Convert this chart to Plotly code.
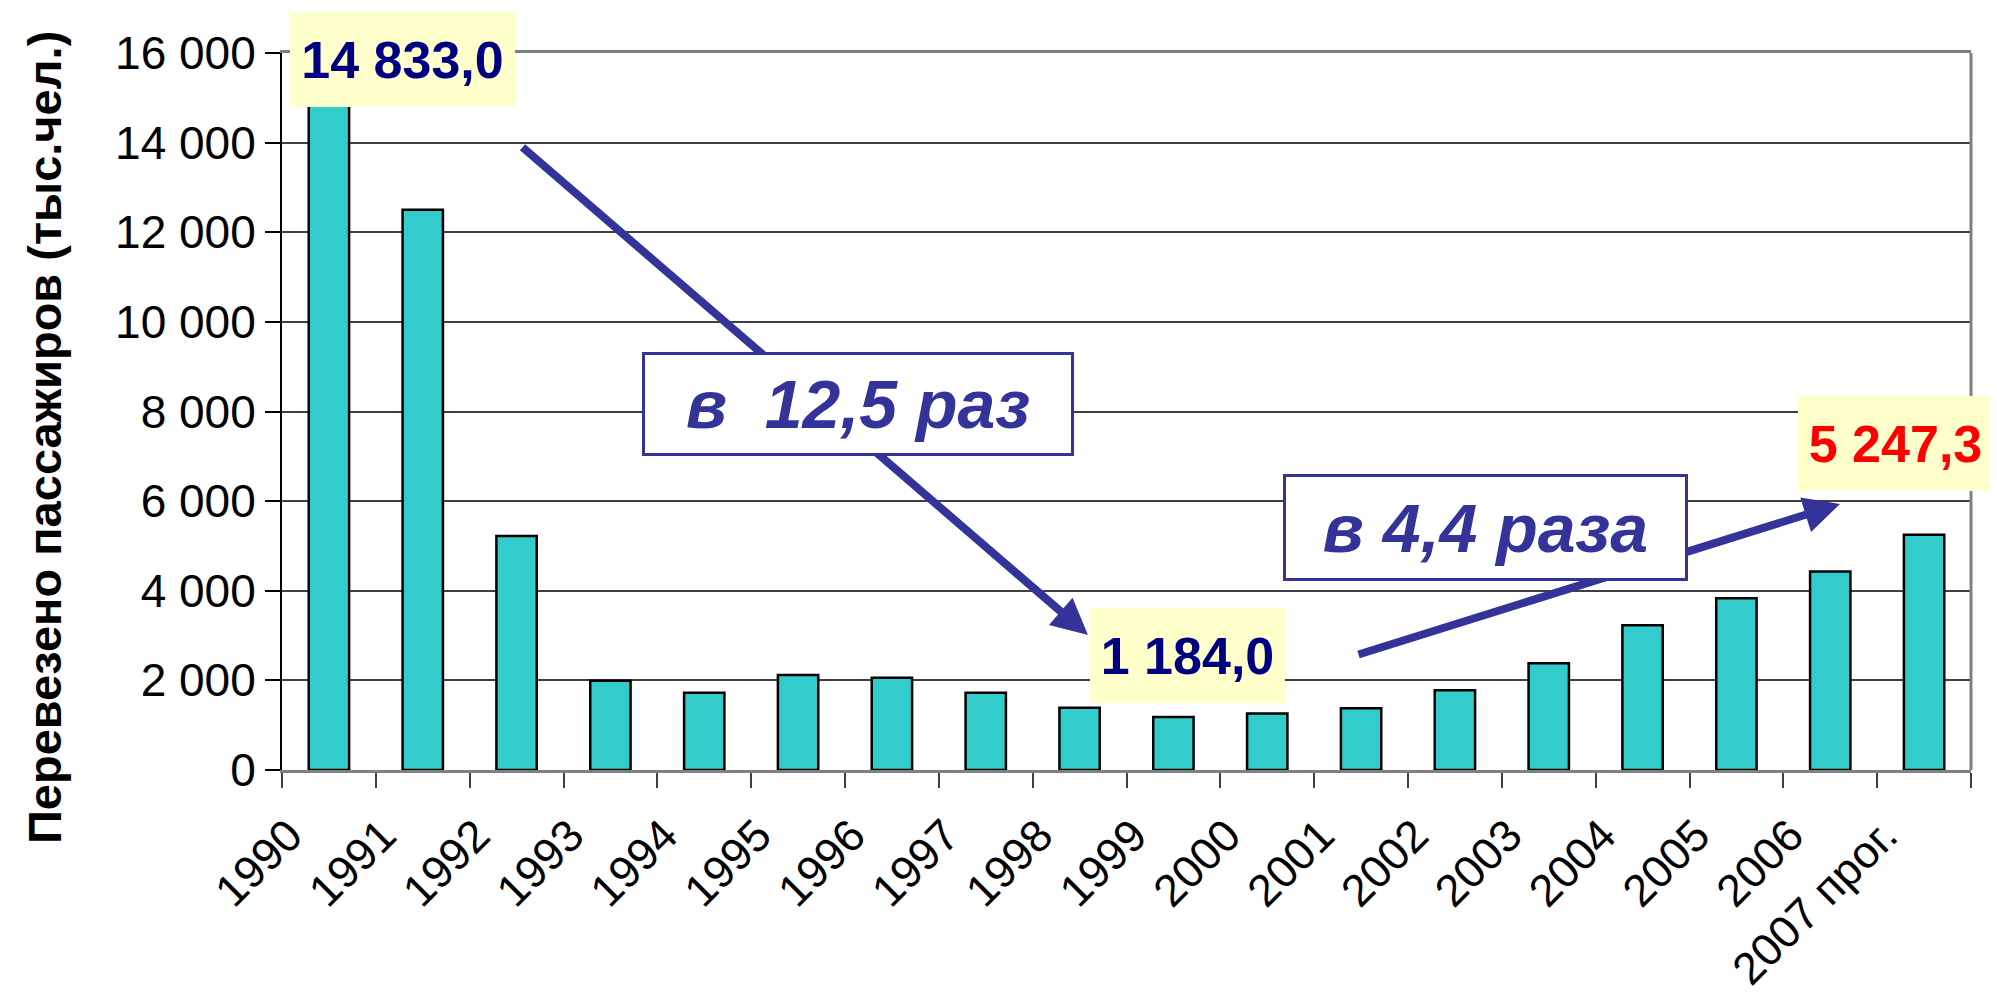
import plotly.graph_objects as go

# ---- data ----
years = ["1990", "1991", "1992", "1993", "1994", "1995", "1996", "1997", "1998",
         "1999", "2000", "2001", "2002", "2003", "2004", "2005", "2006", "2007 прог."]
passengers = [14833.0, 12500, 5220, 1990, 1725, 2120, 2060, 1725, 1390,
              1184.0, 1260, 1380, 1780, 2380, 3230, 3830, 4430, 5247.3]
y_tickvals = [0, 2000, 4000, 6000, 8000, 10000, 12000, 14000, 16000]
y_ticktext = ["0", "2 000", "4 000", "6 000", "8 000", "10 000", "12 000", "14 000", "16 000"]
y_title = "Перевезено пассажиров (тыс.чел.)"
ratio_texts = ["в  12,5 раз", "в 4,4 раза"]
highlight_idx = [0, 9, 17]

# ---- geometry (pixels) ----
W, H = 1997, 996
L, R, T, B = 274, 34, 45, 234
PW, PH = W - L - R, H - T - B


def px(x):
    return (x - L) / PW


def py(y):
    return (H - B - y) / PH


def fmt(v):
    return f"{v:,.1f}".replace(",", " ").replace(".", ",")


FONT = "Liberation Sans, Arial, sans-serif"
ARROW = "#333399"

fig = go.Figure()
fig.add_trace(go.Bar(
    x=years, y=passengers,
    marker=dict(color="#33CCCC", line=dict(color="black", width=2.5)),
    hoverinfo="skip",
))

ann = []
# arrows first (so boxes cover them)
ann.append(dict(x=px(1080), y=py(627), xref="paper", yref="paper",
                ax=513 - 1080, ay=138 - 627, axref="pixel", ayref="pixel",
                text="", showarrow=True, arrowhead=2, arrowsize=0.9,
                arrowwidth=8, arrowcolor=ARROW, standoff=0))
ann.append(dict(x=px(1832), y=py(496), xref="paper", yref="paper",
                ax=1349 - 1832, ay=647 - 496, axref="pixel", ayref="pixel",
                text="", showarrow=True, arrowhead=2, arrowsize=0.9,
                arrowwidth=8, arrowcolor=ARROW, standoff=0))

# ratio boxes
boxes = [(634, 1066, 344, 448), (1275, 1680, 466, 573)]
for txt, (x0, x1, y0, y1) in zip(ratio_texts, boxes):
    ann.append(dict(x=px((x0 + x1) / 2), y=py((y0 + y1) / 2), xref="paper", yref="paper",
                    xanchor="center", yanchor="middle", showarrow=False,
                    text=f"<b><i>{txt}</i></b>", width=x1 - x0 - 6, height=y1 - y0 - 6,
                    borderpad=0, bordercolor=ARROW, borderwidth=3, bgcolor="white",
                    font=dict(family=FONT, size=68, color=ARROW)))

# value labels
label_boxes = [(282, 507, 7, 102), (1082, 1277, 603, 698), (1790, 1985, 391, 486)]
label_colors = ["#000080", "#000080", "#FF0000"]
for i, (x0, x1, y0, y1), c in zip(highlight_idx, label_boxes, label_colors):
    ann.append(dict(x=px((x0 + x1) / 2), y=py((y0 + y1) / 2 - 3), xref="paper", yref="paper",
                    xanchor="center", yanchor="middle", showarrow=False,
                    text=f"<b>{fmt(passengers[i])}</b>", width=x1 - x0, height=y1 - y0,
                    borderpad=0, borderwidth=0, bgcolor="#FFFFCC",
                    font=dict(family=FONT, size=52, color=c)))

# y-axis title
ann.append(dict(x=px(36), y=py(430), xref="paper", yref="paper",
                xanchor="center", yanchor="middle", showarrow=False,
                text=f"<b>{y_title}</b>", textangle=-90,
                font=dict(family=FONT, size=47, color="black")))

fig.update_layout(
    width=W, height=H, autosize=False,
    margin=dict(l=L, r=R, t=T, b=B, autoexpand=False),
    paper_bgcolor="white", plot_bgcolor="white",
    showlegend=False, bargap=0.57,
    font=dict(family=FONT, color="black"),
    annotations=ann,
    shapes=[dict(type="line", xref="paper", yref="paper", x0=1, x1=1, y0=0, y1=1,
                 line=dict(color="#808080", width=3))],
)
fig.update_xaxes(
    type="category", tickangle=-45, tickfont=dict(family=FONT, size=45, color="black"),
    ticklabelshift=-40, ticklabelstandoff=18,
    showline=True, linecolor="#808080", linewidth=3, mirror=True,
    ticks="outside", tickson="boundaries", ticklen=15, tickcolor="#404040", tickwidth=1.5,
    showgrid=False, automargin=False,
)
fig.update_yaxes(
    range=[0, 16000], tickvals=y_tickvals, ticktext=y_ticktext,
    tickfont=dict(family=FONT, size=46, color="black"),
    showline=True, linecolor="black", linewidth=2,
    ticks="outside", ticklen=15, tickcolor="black", tickwidth=1.5,
    showgrid=True, gridcolor="#404040", gridwidth=1.5,
    zeroline=False, automargin=False,
)

fig.write_html("out.html")
